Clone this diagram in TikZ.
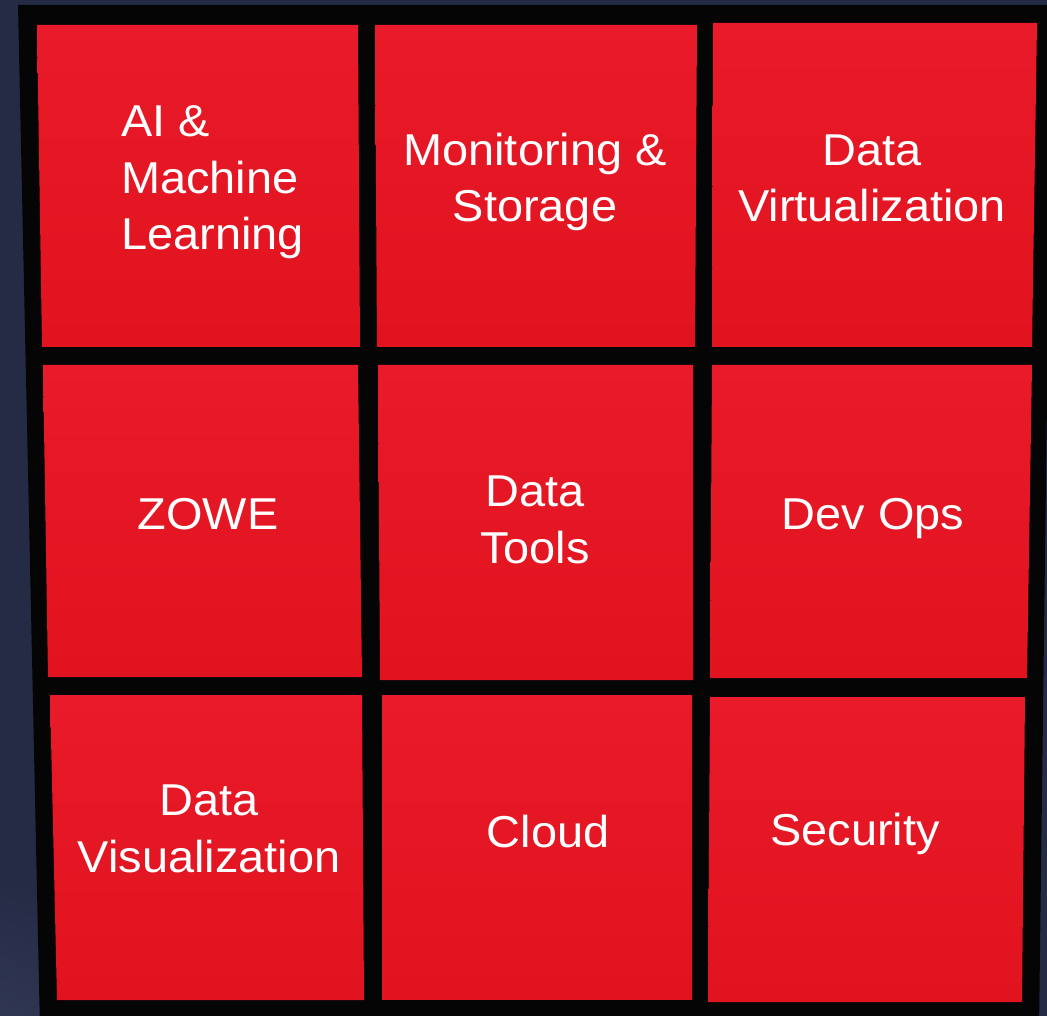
\documentclass[tikz,border=0pt]{standalone}
\usepackage{fontspec}
\setmainfont{Liberation Sans}
\definecolor{navy}{HTML}{252B45}
\definecolor{navylight}{HTML}{343B58}
\definecolor{framebk}{HTML}{050506}
\definecolor{tiletop}{HTML}{E91A29}
\definecolor{tilebot}{HTML}{E0131E}
\tikzset{
  tile/.style={top color=tiletop, bottom color=tilebot, draw=none},
  label/.style={text=white, inner sep=0pt, xscale=1.05,
    font=\fontsize{33.5}{42.4}\selectfont},
}
\begin{document}
\begin{tikzpicture}[x=0.75pt, y=-0.75pt]
  \useasboundingbox (0,0) rectangle (1047,1016);
  \clip (0,0) rectangle (1047,1016);
  % backdrop with a soft glow in the lower left corner
  \fill[navy] (0,0) rectangle (1047,1016);
  \shade[inner color=navylight, outer color=navy] (-20,1060) circle[radius=180];
  % black grid frame
  \fill[framebk] (18,5) -- (1052,5) -- (1039,1030) -- (40,1030) -- cycle;
  % row 1
  \fill[tile] (37,25) -- (358,25) -- (360,347) -- (42,347) -- cycle;
  \fill[tile] (375,25) -- (697,25) -- (695,347) -- (377,347) -- cycle;
  \fill[tile] (713,23) -- (1037,23) -- (1032,347) -- (712,347) -- cycle;
  % row 2
  \fill[tile] (43,365) -- (358,365) -- (362,677) -- (48,677) -- cycle;
  \fill[tile] (378,365) -- (693,365) -- (693,680) -- (380,680) -- cycle;
  \fill[tile] (712,365) -- (1032,365) -- (1027,678) -- (710,678) -- cycle;
  % row 3
  \fill[tile] (50,695) -- (362,695) -- (364,1000) -- (57,1000) -- cycle;
  \fill[tile] (382,695) -- (692,695) -- (692,999) -- (382,999) -- cycle;
  \fill[tile] (710,697) -- (1025,697) -- (1022,1002) -- (708,1002) -- cycle;
  % labels (base anchor sits on the last line)
  \node[label, anchor=base west, align=left] (ai) at (121,250) {AI \&\\Machine\\Learning};
  \node[label, anchor=base, align=center] (mon) at (535,222) {Monitoring \&\\Storage};
  \node[label, anchor=base, align=center] (virt) at (872,222) {Data\\Virtualization};
  \node[label, anchor=base] (zowe) at (208,529) {ZOWE};
  \node[label, anchor=base, align=center] (tools) at (535,563) {Data\\Tools};
  \node[label, anchor=base] (devops) at (873,529) {Dev Ops};
  \node[label, anchor=base, align=center] (vis) at (209,872) {Data\\Visualization};
  \node[label, anchor=base] (cloud) at (548,847) {Cloud};
  \node[label, anchor=base] (sec) at (855,845) {Security};
\end{tikzpicture}
\end{document}
